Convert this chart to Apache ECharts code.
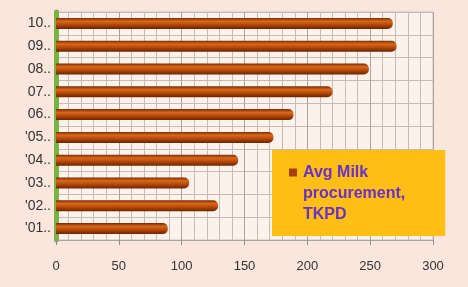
<!DOCTYPE html>
<html>
<head>
<meta charset="utf-8">
<script src="https://cdn.jsdelivr.net/npm/echarts@6/dist/echarts.min.js"></script>
<style>
html,body{margin:0;padding:0;background:#fbe6de;}
#chart{width:468px;height:287px;}
</style>
</head>
<body>
<div id="chart"></div>
<script>
//年份类目（从下往上）
var years = ["'01..", "'02..", "'03..", "'04..", "'05..", "06..", "07..", "08..", "09..", "10.."];
//平均收奶量 TKPD
var milk_values = [89, 129, 106, 145, 173, 189, 220, 249, 271, 268];
var x_ticks = [0, 50, 100, 150, 200, 250, 300];

var myChart = echarts.init(document.getElementById('chart'));

var bar_color = new echarts.graphic.LinearGradient(0, 0, 0, 1, [
	{offset: 0, color: '#7a2c04'},
	{offset: 0.3, color: '#d9691c'},
	{offset: 0.6, color: '#b94a08'},
	{offset: 1, color: '#6a2400'}
]);

var option = {
	backgroundColor: '#fbe6de',
	textStyle: {fontFamily: 'Liberation Sans, Arial, sans-serif'},
	grid: {
		left: 56, right: 35, top: 12, bottom: 47,
		show: true,
		backgroundColor: '#fdf1ec',
		borderColor: '#c8c0bc',
		borderWidth: 1
	},
	legend: {
		show: true,
		data: ['Avg Milk procurement, TKPD'],
		left: 272, top: 150,
		backgroundColor: '#fdbf13',
		padding: [12, 40, 11, 12],
		itemWidth: 0, itemHeight: 0,
		itemGap: 0,
		icon: 'none',
		formatter: function(){
			//图例方块放在第一行
			return '{sq|}{gap|}Avg Milk\n{sp|}procurement,\n{sp|}TKPD';
		},
		textStyle: {
			color: '#6a30c8',
			fontSize: 16,
			fontWeight: 'bold',
			lineHeight: 21,
			fontFamily: 'Liberation Sans, Arial, sans-serif',
			rich: {
				sq: {width: 8, height: 8, backgroundColor: '#a8400e'},
				gap: {width: 6},
				sp: {width: 14}
			}
		}
	},
	xAxis: {
		type: 'value',
		min: 0, max: 300, interval: 50,
		axisLine: {show: true, lineStyle: {color: '#a8a4a0', width: 1}},
		axisTick: {show: true, length: 5, lineStyle: {color: '#908c88'}},
		axisLabel: {
			color: '#333',
			fontSize: 13,
			margin: 20,
			formatter: function(v){ return x_ticks.indexOf(v) >= 0 ? String(v) : ''; }
		},
		splitLine: {show: true, lineStyle: {color: '#aaa4a0', width: 1}},
		minorTick: {show: false, splitNumber: 5},
		minorSplitLine: {show: true, lineStyle: {color: '#c4bcb8', width: 1}}
	},
	yAxis: {
		type: 'category',
		data: years,
		axisLine: {show: true, lineStyle: {color: '#78b444', width: 5}},
		axisTick: {show: false},
		axisLabel: {color: '#333', fontSize: 14, margin: 5},
		splitLine: {show: true, lineStyle: {color: '#c4bcb8', width: 1}}
	},
	series: [{
		name: 'Avg Milk procurement, TKPD',
		type: 'bar',
		data: milk_values,
		barWidth: 11,
		itemStyle: {color: bar_color, borderRadius: [0, 5, 5, 0]}
	}]
};
myChart.setOption(option);
</script>
</body>
</html>
